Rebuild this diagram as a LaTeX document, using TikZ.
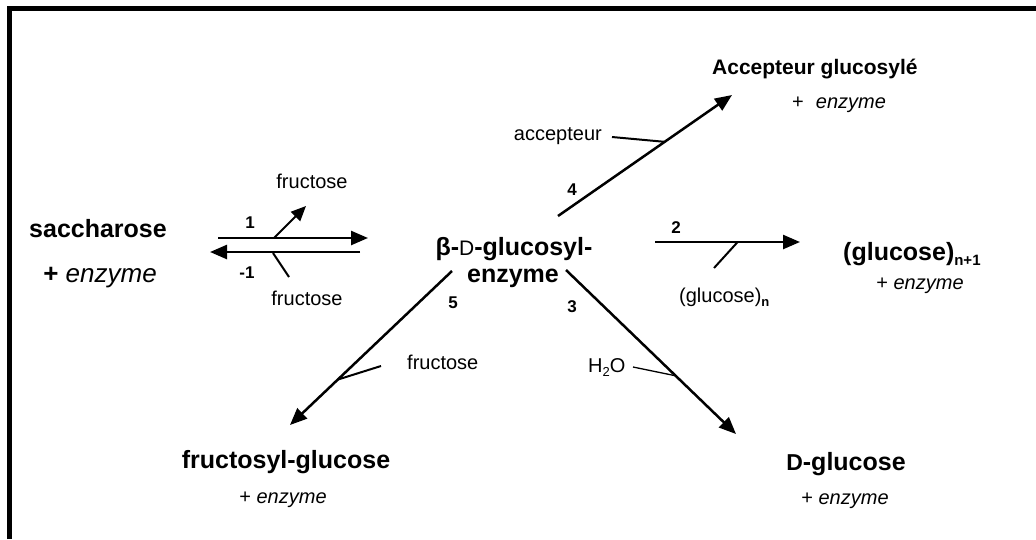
\documentclass[tikz,border=0pt]{standalone}
\usepackage{fontspec}
\setmainfont{Liberation Sans}
\usetikzlibrary{arrows.meta,calc}
% subscript set a little lower than \textsubscript
\newcommand\lowsub[2][13]{\raisebox{-0.4ex}{\fontsize{#1}{15}\selectfont #2}}

\begin{document}
\begin{tikzpicture}[x=1pt,y=-1pt,
  species/.style={font=\fontsize{25}{30}\selectfont\bfseries, inner sep=0pt},
  cofactor/.style={font=\fontsize{20}{24}\selectfont, inner sep=0pt},
  reagent/.style={font=\fontsize{20}{24}\selectfont, inner sep=0pt},
  stepnum/.style={font=\fontsize{17}{20}\selectfont\bfseries, inner sep=0pt},
  reaction/.style={line width=2.5pt, -{Triangle[length=17pt,width=14pt]}},
  side/.style={line width=2pt},
  sidearrow/.style={line width=2pt, -{Triangle[length=15pt,width=13pt]}},
  frame/.style={line width=5pt},
]
\useasboundingbox (0,0) rectangle (1036,539);

% frame: heavy rule along the top and left edges
\coordinate (fbl) at (9.5,539);
\coordinate (ftr) at (1036,8.5);
\draw[frame] (fbl) |- (ftr);

% ---- species ----
\node[species, anchor=base] (sac) at (98,237) {saccharose};
\node[inner sep=0pt, anchor=base, font=\fontsize{26}{30}\selectfont] (sacenz) at (100,282) {\textbf{+} \textit{enzyme}};

\node[species, anchor=base] (ge1) at (514,255) {β-{\mdseries\fontsize{21}{25}\selectfont D}-glucosyl-};
\node[species, anchor=base] (ge2) at (513,282) {enzyme};

\node[species, anchor=base west, font=\fontsize{21}{25}\selectfont\bfseries] (acc) at (712,74) {Accepteur glucosylé};
\node[cofactor, anchor=base west] (accenz) at (792,108) {+\hspace{0.6em}\textit{enzyme}};

\node[species, anchor=base west] (glcn1) at (843,260) {(glucose)\lowsub[15]{n+1}};
\node[cofactor, anchor=base] (glcn1enz) at (920,289) {+ \textit{enzyme}};

\node[species, anchor=base] (fg) at (286,468) {fructosyl-glucose};
\node[cofactor, anchor=base] (fgenz) at (283,503) {+ \textit{enzyme}};

\node[species, anchor=base] (dg) at (846,470) {{\fontsize{23}{27}\selectfont D}-glucose};
\node[cofactor, anchor=base] (dgenz) at (845,504) {+ \textit{enzyme}};

% ---- co-reactants ----
\node[reagent, anchor=base] (fru1) at (312,188) {fructose};
\node[reagent, anchor=base] (frum1) at (307,305) {fructose};
\node[reagent, anchor=base east] (accr) at (602,140) {accepteur};
\node[reagent, anchor=base west] (glcn) at (679,302) {(glucose)\lowsub{\textbf{n}}};
\node[reagent, anchor=base west] (fru5) at (407,369) {fructose};
\node[reagent, anchor=base west] (water) at (588,372) {H\lowsub{2}O};

% ---- step numbers ----
\node[stepnum, anchor=base] (n1) at (250,228) {1};
\node[stepnum, anchor=base] (nm1) at (247,278) {-1};
\node[stepnum, anchor=base] (n2) at (676,233) {2};
\node[stepnum, anchor=base] (n3) at (572,312) {3};
\node[stepnum, anchor=base] (n4) at (572,195) {4};
\node[stepnum, anchor=base] (n5) at (453,308) {5};

% ---- step 1 / -1 ----
\coordinate (r1s) at (218,238);
\coordinate (r1e) at (368,238);
\coordinate (rm1s) at (360,252);
\coordinate (rm1e) at (210,252);
\draw[reaction] (r1s) -- (r1e);
\draw[reaction] (rm1s) -- (rm1e);
\coordinate (f1a) at (274,238);
\coordinate (f1b) at (306,206);
\draw[sidearrow] (f1a) -- (f1b);
\coordinate (fm1a) at (273,253);
\coordinate (fm1b) at (289,277);
\draw[side] (fm1a) -- (fm1b);

% ---- step 4 ----
\coordinate (a4s) at (558,216);
\coordinate (a4e) at (732,95);
\draw[reaction] (a4s) -- (a4e);
\coordinate (b4) at (612,137);
\draw[side] (b4) -- ($(a4s)!0.613!(a4e)$);

% ---- step 2 ----
\coordinate (a2s) at (655,242);
\coordinate (a2e) at (800,242);
\draw[reaction] (a2s) -- (a2e);
\coordinate (b2) at (714,268);
\draw[side] (b2) -- ($(a2s)!0.57!(a2e)$);

% ---- step 3 ----
\coordinate (a3s) at (566,270);
\coordinate (a3e) at (736,434);
\draw[reaction] (a3s) -- (a3e);
\coordinate (b3) at (633,367);
\draw[line width=1.3pt] (b3) -- ($(a3s)!0.645!(a3e)$);

% ---- step 5 ----
\coordinate (a5s) at (452,271);
\coordinate (a5e) at (290,425);
\draw[reaction] (a5s) -- (a5e);
\coordinate (b5) at (381,366);
\draw[side] (b5) -- ($(a5s)!0.705!(a5e)$);
\end{tikzpicture}
\end{document}
